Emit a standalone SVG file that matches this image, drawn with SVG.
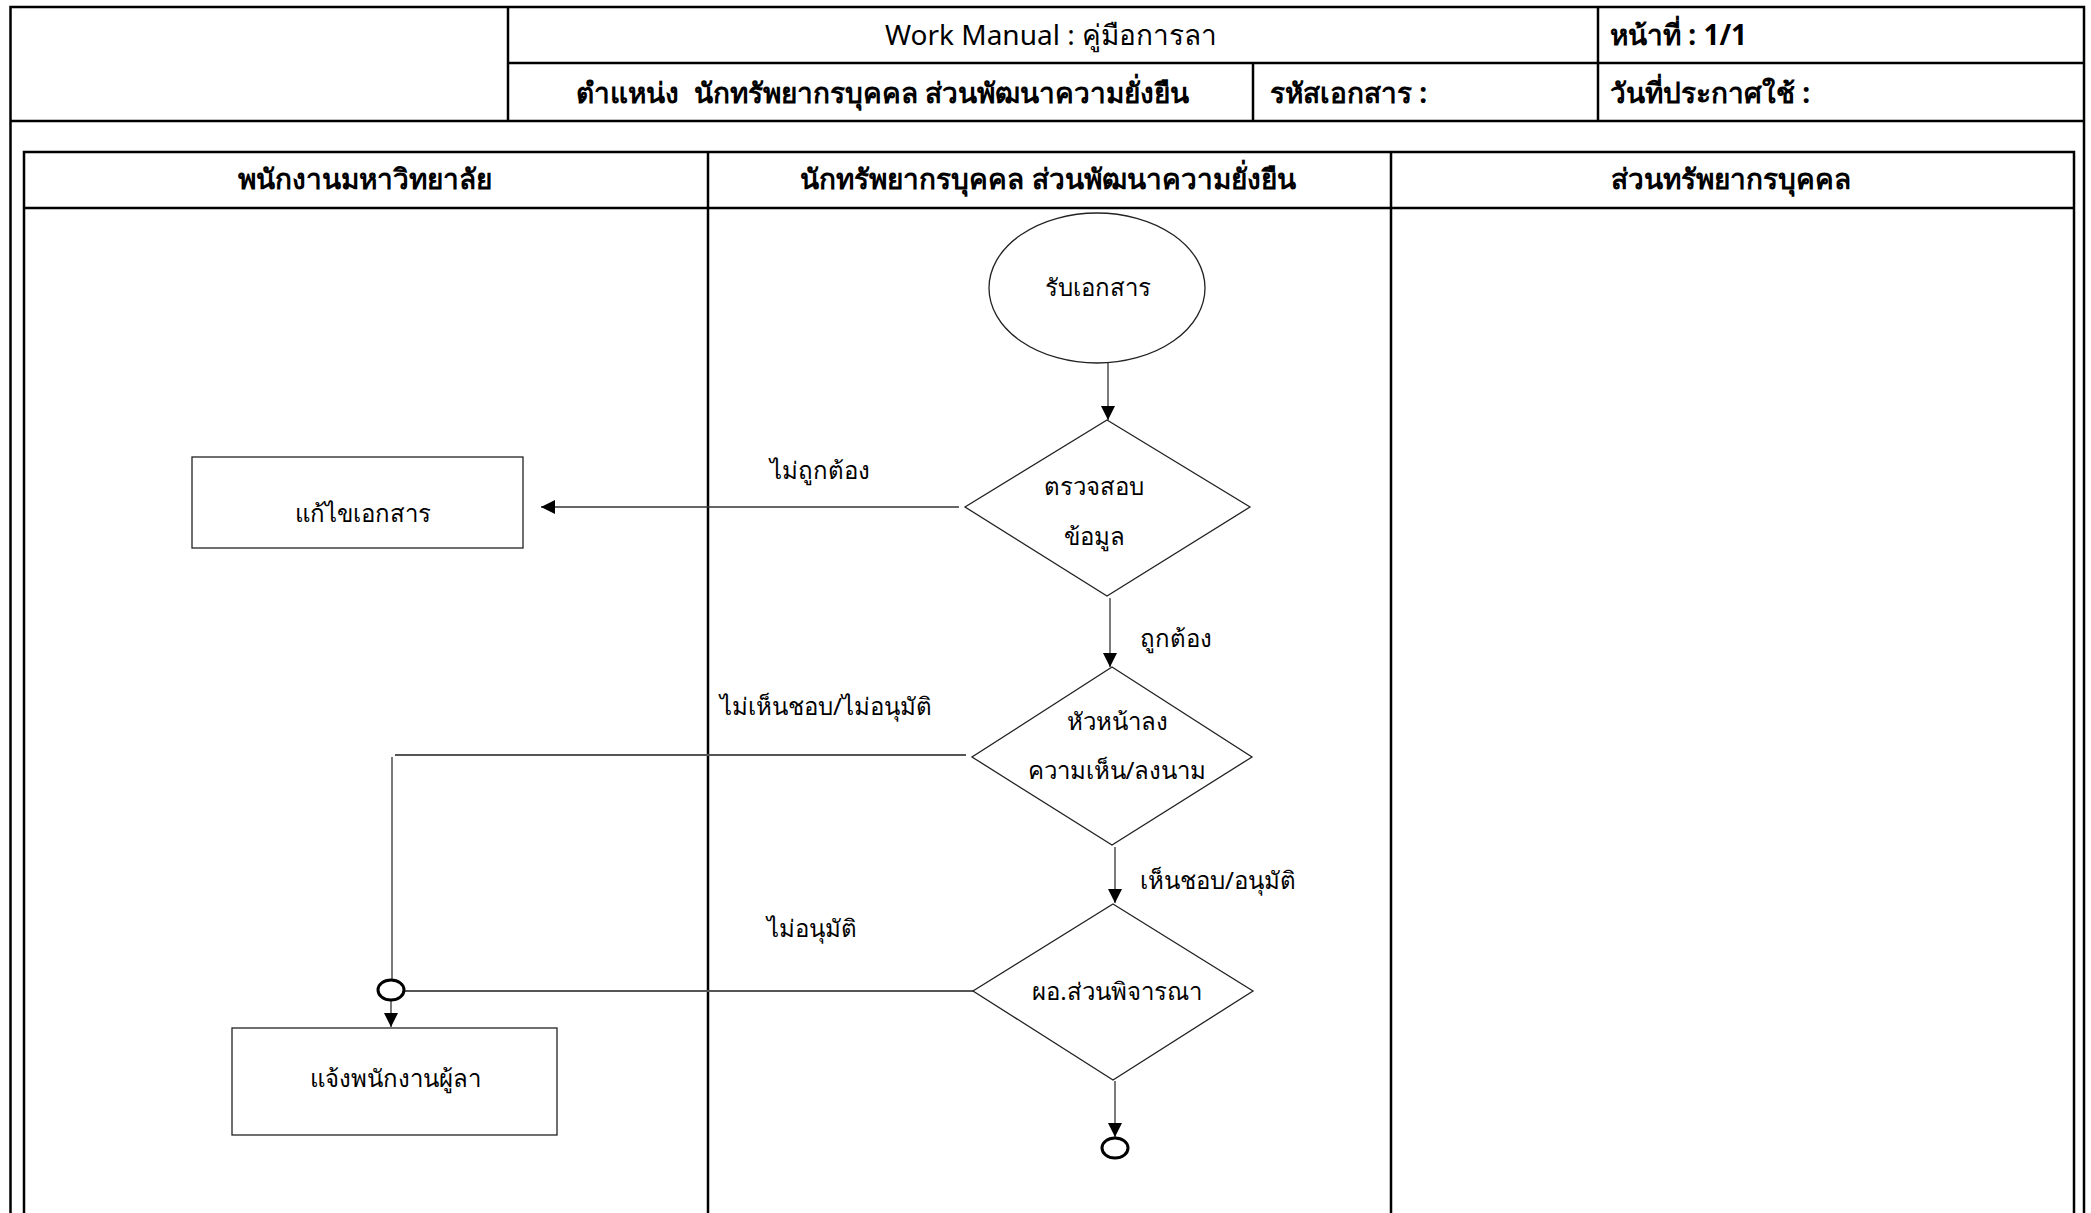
<svg xmlns="http://www.w3.org/2000/svg" width="2091" height="1213" viewBox="0 0 2091 1213">
<style>
.frame{fill:none;stroke:#000;stroke-width:2.5}
.shape{fill:#fff;stroke:#222;stroke-width:1.3}
.conn{fill:none;stroke:#333;stroke-width:1.3}
.conn2{fill:none;stroke:#555;stroke-width:2}
.t{font-family:"Noto Sans","DejaVu Sans",sans-serif;fill:#000;dominant-baseline:central}
.hd{font-size:28px}
.hb{font-size:28px;font-weight:bold}
.nd{font-size:24px}
.lb{font-size:24px}
.jn{fill:#fff;stroke:#000;stroke-width:3}
</style>
<defs>
<marker id="arr" viewBox="0 0 10 10" refX="10" refY="5" markerWidth="14" markerHeight="14" markerUnits="userSpaceOnUse" orient="auto">
<path d="M0,0 L10,5 L0,10 Z" fill="#000"/>
</marker>
</defs>
<rect width="2091" height="1213" fill="#fff"/>
<g id="header">
<path class="frame" d="M10.5,1213 V7 H2084 V1213"/>
<line class="frame" x1="10" y1="121" x2="2084" y2="121"/>
<line class="frame" x1="508" y1="7" x2="508" y2="121"/>
<line class="frame" x1="508" y1="63" x2="2084" y2="63"/>
<line class="frame" x1="1598" y1="7" x2="1598" y2="121"/>
<line class="frame" x1="1253" y1="63" x2="1253" y2="121"/>
<text class="t hd" x="1051" y="34" text-anchor="middle">Work Manual : คู่มือการลา</text>
<text class="t hb" x="1610" y="34">หน้าที่ : 1/1</text>
<text class="t hb" x="576" y="92" xml:space="preserve">ตำแหน่ง  นักทรัพยากรบุคคล ส่วนพัฒนาความยั่งยืน</text>
<text class="t hb" x="1270" y="92">รหัสเอกสาร :</text>
<text class="t hb" x="1610" y="92">วันที่ประกาศใช้ :</text>
</g>
<g id="lanes">
<path class="frame" d="M24,1213 V152 H2074 V1213"/>
<line class="frame" x1="24" y1="208" x2="2074" y2="208"/>
<line class="frame" x1="708" y1="152" x2="708" y2="1213"/>
<line class="frame" x1="1391" y1="152" x2="1391" y2="1213"/>
<text class="t hb" x="365" y="178" text-anchor="middle">พนักงานมหาวิทยาลัย</text>
<text class="t hb" x="1048" y="178" text-anchor="middle">นักทรัพยากรบุคคล ส่วนพัฒนาความยั่งยืน</text>
<text class="t hb" x="1731" y="178" text-anchor="middle">ส่วนทรัพยากรบุคคล</text>
</g>
<g id="connectors">
<line class="conn" x1="1108" y1="363" x2="1108" y2="420" marker-end="url(#arr)"/>
<line class="conn" x1="959" y1="507" x2="541" y2="507" marker-end="url(#arr)"/>
<line class="conn" x1="1110" y1="598" x2="1110" y2="667" marker-end="url(#arr)"/>
<path class="conn2" d="M966,755 H395"/>
<path class="conn" d="M392,757 V980"/>
<line class="conn" x1="1115" y1="847" x2="1115" y2="903" marker-end="url(#arr)"/>
<line class="conn2" x1="973" y1="991" x2="404" y2="991"/>
<line class="conn" x1="391" y1="1000" x2="391" y2="1027" marker-end="url(#arr)"/>
<line class="conn" x1="1115" y1="1081" x2="1115" y2="1137" marker-end="url(#arr)"/>
<text class="t lb" x="820" y="469" text-anchor="middle">ไม่ถูกต้อง</text>
<text class="t lb" x="1140" y="637">ถูกต้อง</text>
<text class="t lb" x="826" y="705" text-anchor="middle">ไม่เห็นชอบ/ไม่อนุมัติ</text>
<text class="t lb" x="1140" y="879">เห็นชอบ/อนุมัติ</text>
<text class="t lb" x="812" y="927" text-anchor="middle">ไม่อนุมัติ</text>
</g>
<g id="n-receive">
<ellipse class="shape" cx="1097" cy="288" rx="108" ry="75"/>
<text class="t nd" x="1098" y="286" text-anchor="middle">รับเอกสาร</text>
</g>
<g id="n-check">
<polygon class="shape" points="1107,420 1250,507 1107,596 965,507"/>
<text class="t nd" x="1094" y="485" text-anchor="middle">ตรวจสอบ</text>
<text class="t nd" x="1094" y="535" text-anchor="middle">ข้อมูล</text>
</g>
<g id="n-fix">
<rect class="shape" x="192" y="457" width="331" height="91"/>
<text class="t nd" x="363" y="512" text-anchor="middle">แก้ไขเอกสาร</text>
</g>
<g id="n-head">
<polygon class="shape" points="1112,667 1252,757 1112,845 972,757"/>
<text class="t nd" x="1117" y="720" text-anchor="middle">หัวหน้าลง</text>
<text class="t nd" x="1117" y="769" text-anchor="middle">ความเห็น/ลงนาม</text>
</g>
<g id="n-director">
<polygon class="shape" points="1113,904 1253,991 1113,1080 973,991"/>
<text class="t nd" x="1117" y="990" text-anchor="middle">ผอ.ส่วนพิจารณา</text>
</g>
<g id="n-join">
<ellipse class="jn" cx="391" cy="990" rx="13" ry="10"/>
</g>
<g id="n-notify">
<rect class="shape" x="232" y="1028" width="325" height="107"/>
<text class="t nd" x="395" y="1077" text-anchor="middle">แจ้งพนักงานผู้ลา</text>
</g>
<g id="n-end">
<ellipse class="jn" cx="1115" cy="1148" rx="13" ry="10"/>
</g>
</svg>
